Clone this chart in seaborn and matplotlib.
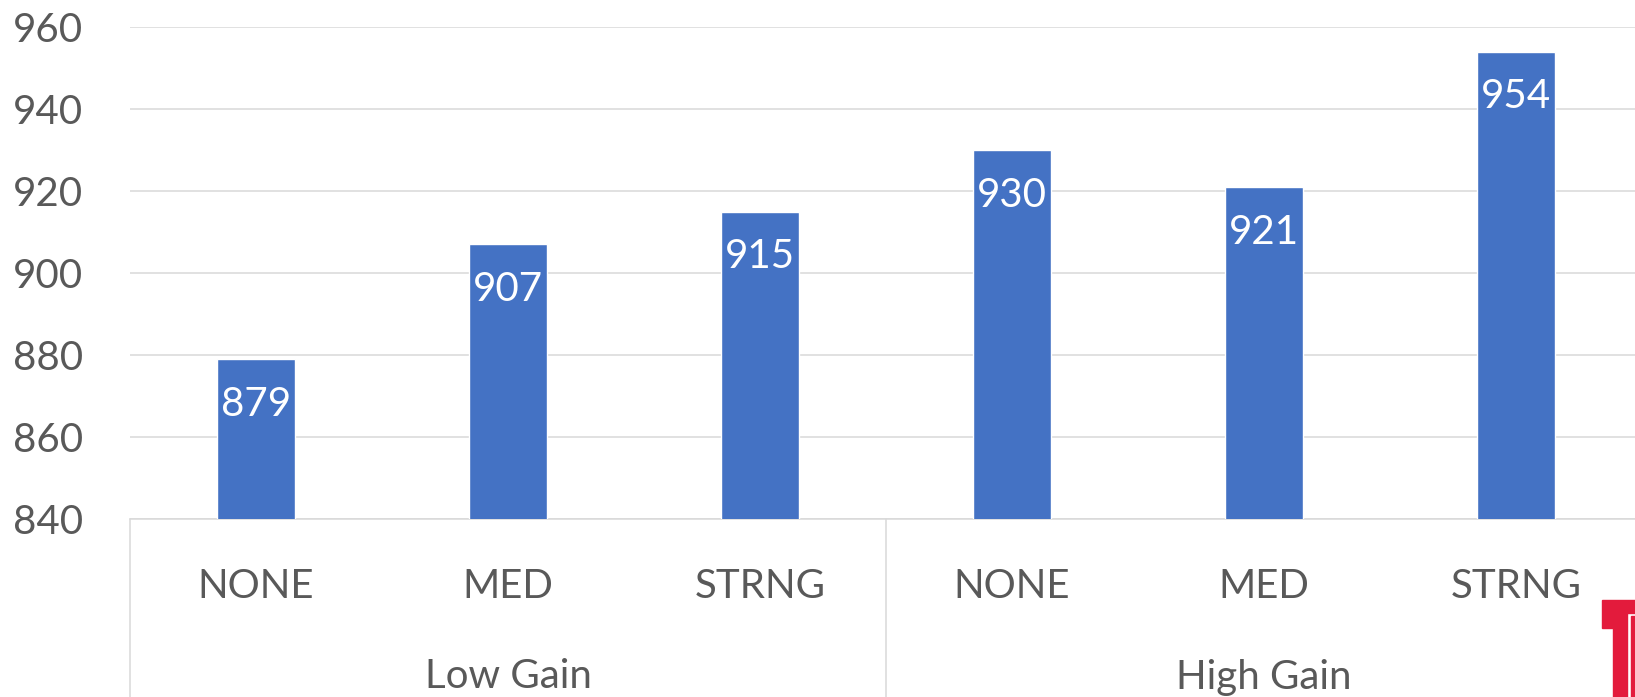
import matplotlib
matplotlib.use("Agg")
import matplotlib.pyplot as plt
from matplotlib.patches import Polygon
from matplotlib.lines import Line2D
import seaborn as sns
import pandas as pd

# Chart data
groups = ["Low Gain", "Low Gain", "Low Gain", "High Gain", "High Gain", "High Gain"]
levels = ["NONE", "MED", "STRNG", "NONE", "MED", "STRNG"]
values = [879, 907, 915, 930, 921, 954]
y_ticks = [840, 860, 880, 900, 920, 940, 960]
group_names = ["Low Gain", "High Gain"]

BAR = "#4472C4"
GRID = "#D9D9D9"
TEXT = "#595959"

sns.set_theme(style="white")
plt.rcParams["font.family"] = ["Lato", "DejaVu Sans"]

df = pd.DataFrame({"group": groups, "level": levels, "value": values})
df["key"] = df["group"] + " | " + df["level"]

W, H = 1635, 697
fig = plt.figure(figsize=(W / 100, H / 100), dpi=100)
ax_left, ax_right, ax_top, ax_bottom = 130, 1642, 27, 519
ax = fig.add_axes([ax_left / W, 1 - ax_bottom / H,
                   (ax_right - ax_left) / W, (ax_bottom - ax_top) / H])

sns.barplot(data=df, x="key", y="value", order=list(df["key"]),
            color=BAR, saturation=1, width=0.31, ax=ax, zorder=3)

ax.set_ylim(840, 960)
ax.set_yticks(y_ticks)
ax.set_xlim(-0.5, len(values) - 0.5)
ax.grid(axis="y", color=GRID, linewidth=1.1, zorder=0)
ax.grid(axis="x", visible=False)
for s in ["left", "right", "top"]:
    ax.spines[s].set_visible(False)
ax.spines["bottom"].set_color(GRID)
ax.spines["bottom"].set_linewidth(1.1)

ax.set_xlabel("")
ax.set_ylabel("")
ax.set_xticks(range(len(levels)))
ax.set_xticklabels(levels)
ax.tick_params(axis="x", length=0, pad=35, labelsize=29, labelcolor=TEXT)
ax.tick_params(axis="y", length=0, pad=34, labelsize=29, labelcolor=TEXT)

# value labels inside the bar tops
for patch, v in zip(ax.patches, values):
    ax.annotate(f"{v}", (patch.get_x() + patch.get_width() / 2, v),
                xytext=(0, -32.5), textcoords="offset points",
                ha="center", va="center", color="white", fontsize=29, zorder=4)

# group labels and separators below the axis
for i, name in enumerate(group_names):
    xc = (ax_left + (ax_right - ax_left) * (i + 0.5) / 2) / W
    fig.text(xc, 1 - 677 / H, name, ha="center", va="center",
             fontsize=29, color=TEXT)
for xp in [ax_left, (ax_left + ax_right) / 2, ax_right]:
    fig.add_artist(Line2D([xp / W, xp / W], [1 - ax_bottom / H, 0],
                          color=GRID, linewidth=1.1))

# corner mark
RED = "#E31B3C"
def px(pts):
    return [(x / W, 1 - y / H) for x, y in pts]
fig.add_artist(Polygon(px([(1602, 600), (1635, 600), (1635, 613), (1627, 613),
                           (1627, 697), (1613, 697), (1613, 628), (1602, 628)]),
                       closed=True, color=RED, transform=fig.transFigure))
fig.add_artist(Polygon(px([(1631, 616), (1635, 616), (1635, 697), (1631, 697)]),
                       closed=True, color=RED, transform=fig.transFigure))

fig.savefig("out.png", dpi=100)
